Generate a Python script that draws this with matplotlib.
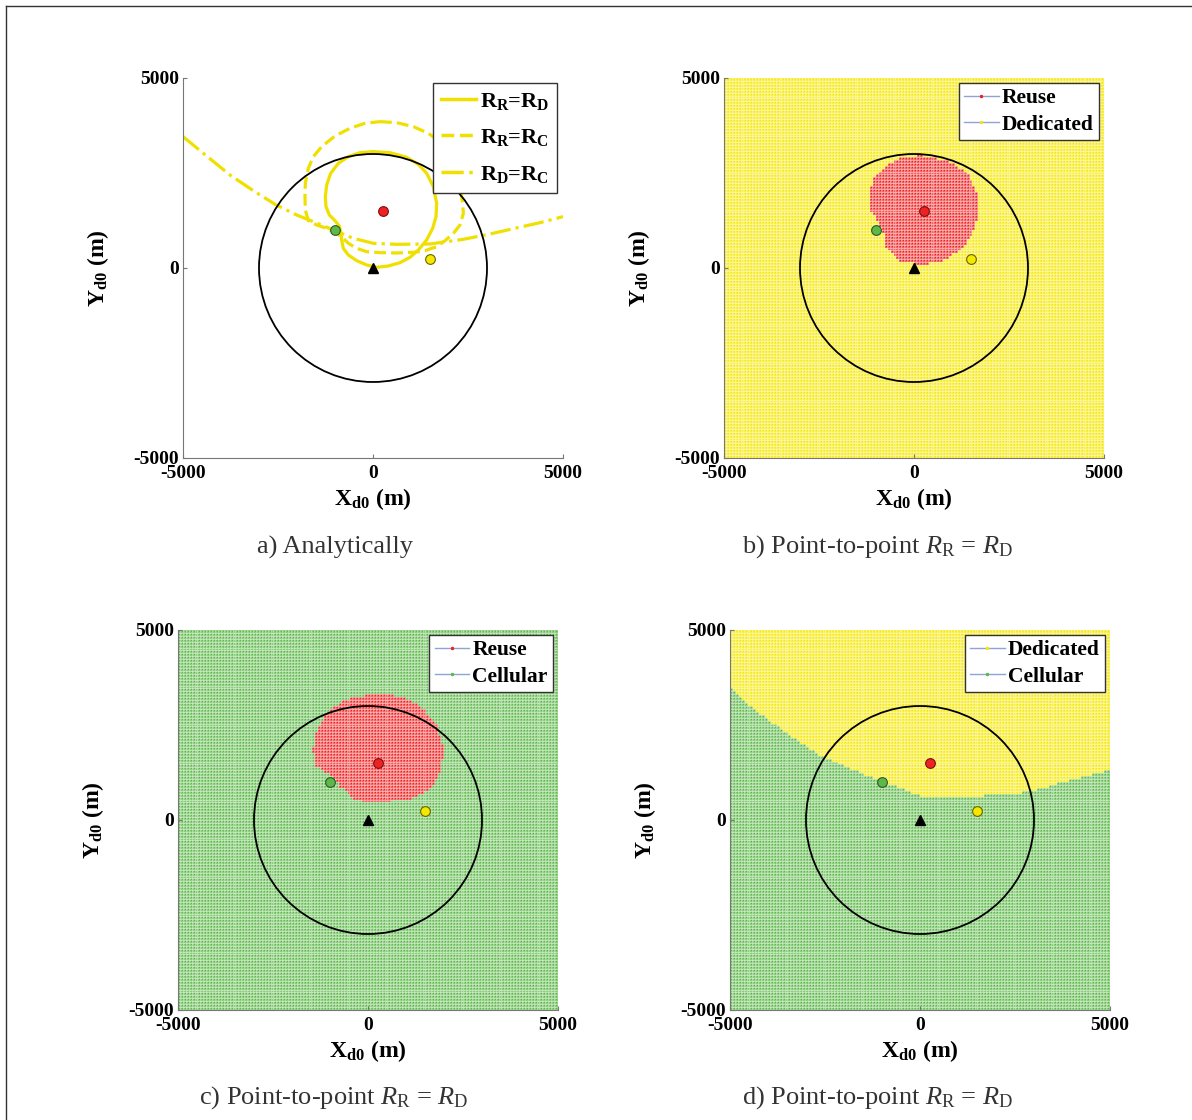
import numpy as np
import matplotlib
matplotlib.use("Agg")
import matplotlib.pyplot as plt
from matplotlib.colors import ListedColormap
from matplotlib.lines import Line2D
from matplotlib.patches import Circle
from matplotlib.path import Path

plt.rcParams["font.family"] = ["Liberation Serif", "DejaVu Serif"]
plt.rcParams["mathtext.fontset"] = "custom"
plt.rcParams["mathtext.rm"] = "Liberation Serif"
plt.rcParams["mathtext.it"] = "Liberation Serif:italic"
plt.rcParams["mathtext.bf"] = "Liberation Serif:bold"
plt.rcParams["axes.unicode_minus"] = False

# node positions (m)
bs = (0, 0)
red_node = (250, 1500)
green_node = (-1000, 1000)
yellow_node = (1500, 250)
cell_radius = 3000

# a) analytic boundaries
rr_rd_x = [9, 447, 886, 1193, 1412, 1588, 1676, 1658, 1570, 1412, 1193, 974, 711, 404, 96,
           -167, -430, -649, -781, -825, -842, -886, -1000, -1149, -1237, -1255, -1219,
           -1114, -912, -649, -342, 9]
rr_rd_y = [3062, 3036, 2913, 2729, 2492, 2141, 1702, 1351, 1044, 737, 474, 281, 140, 53, 18,
           79, 193, 342, 518, 737, 912, 1105, 1246, 1395, 1614, 1877, 2185,
           2492, 2755, 2930, 3036, 3062]

rr_rc_x = [184, 623, 1062, 1456, 1763, 2027, 2246, 2360, 2378, 2290, 2114, 1895, 1676, 1369,
           1062, 623, 184, -167, -430, -649, -781, -956, -1219, -1483, -1702, -1781, -1790,
           -1781, -1702, -1570, -1351, -1000, -605, -211, 184]
rr_rc_y = [3852, 3825, 3720, 3545, 3325, 2930, 2404, 1702, 1439, 1132, 912, 719, 561, 456,
           412, 395, 404, 430, 518, 649, 781, 912, 1044, 1132, 1246, 1527, 1877,
           2228, 2623, 2930, 3194, 3474, 3676, 3808, 3852]

rd_rc_x = [-5000, -4378, -3764, -3150, -2579, -2009, -1570, -1044, -518, 9, 623, 1500,
           2378, 3079, 3694, 4395, 5000]
rd_rc_y = [3457, 2948, 2448, 2035, 1676, 1395, 1219, 1000, 781, 649, 623, 632,
           755, 895, 1035, 1193, 1351]

# b) point-to-point: reuse region (rest is dedicated)
reuse_b_x = [184, 886, 1412, 1718, 1718, 1543, 1236, 710, 184, -342, -736, -780, -955,
             -1131, -1175, -1043, -692, -254]
reuse_b_y = [2972, 2840, 2490, 1876, 1438, 912, 473, 166, 79, 166, 561, 912, 1218,
             1525, 1963, 2403, 2753, 2929]

# c) point-to-point: reuse region (rest is cellular)
reuse_c_x = [228, 929, 1455, 1806, 1981, 1938, 1718, 1105, 228, -298, -736, -912, -1350,
             -1438, -1350, -1087, -649]
reuse_c_y = [3331, 3243, 2937, 2542, 1929, 1315, 877, 570, 438, 526, 877, 1140, 1403,
             1841, 2280, 2806, 3156]

# d) point-to-point: dedicated above this line, cellular below
ded_d_x = [-5040, -4384, -3506, -2630, -1754, -877, -350, 88, 877, 1754, 2893, 3945, 4997]
ded_d_y = [3506, 2937, 2280, 1710, 1315, 964, 789, 614, 614, 658, 745, 1052, 1315]

RED = "#ee2222"
YELLOW = "#f5e800"
GREEN = "#5cb848"
LINE_YELLOW = "#f0e000"
mode_cmap = ListedColormap([RED, YELLOW, GREEN])  # 0 reuse, 1 dedicated, 2 cellular

W, H = 1192, 1120
fig = plt.figure(figsize=(W / 100, H / 100), dpi=100)

# thin frame lines round the figure (left and top)
fig.add_artist(Line2D([6 / W, 6 / W], [0, 1 - 6 / H], transform=fig.transFigure,
                      lw=1.0, color="#333333"))
fig.add_artist(Line2D([6 / W, 1], [1 - 6 / H, 1 - 6 / H], transform=fig.transFigure,
                      lw=1.0, color="#333333"))


def make_axes(left, top):
    ax = fig.add_axes([left / W, 1 - (top + 380) / H, 380 / W, 380 / H])
    ax.set_xlim(-5000, 5000)
    ax.set_ylim(-5000, 5000)
    ax.set_xticks([-5000, 0, 5000])
    ax.set_yticks([-5000, 0, 5000])
    ax.tick_params(direction="in", length=3, color="#777777", labelsize=14, pad=3)
    ax.tick_params(axis="x", pad=5)
    for lab in ax.get_xticklabels() + ax.get_yticklabels():
        lab.set_fontweight("bold")
    for s in ["top", "right"]:
        ax.spines[s].set_visible(False)
    for s in ["left", "bottom"]:
        ax.spines[s].set_color("#777777")
    ax.set_xlabel(r"X$_\mathregular{d0}$ (m)", fontsize=17, fontweight="bold")
    ax.set_ylabel(r"Y$_\mathregular{d0}$ (m)", fontsize=17, fontweight="bold")
    ax.xaxis.set_label_coords(0.5, -0.075)
    ax.yaxis.set_label_coords(-0.19, 0.5)
    return ax


def draw_nodes(ax):
    ax.add_patch(Circle(bs, cell_radius, fill=False, ec="black", lw=1.3, zorder=3))
    ax.plot(*red_node, "o", ms=7, mfc=RED, mec="#7a1010", mew=0.8, zorder=4)
    ax.plot(*green_node, "o", ms=7, mfc=GREEN, mec="#2f5a25", mew=0.8, zorder=4)
    ax.plot(*yellow_node, "o", ms=7, mfc=YELLOW, mec="#6a6400", mew=0.8, zorder=4)
    ax.plot(*bs, "^", ms=7, color="black", zorder=4)


edges = np.linspace(-5000, 5000, 131)
centres = (edges[:-1] + edges[1:]) / 2
gx, gy = np.meshgrid(centres, centres)
grid_pts = np.column_stack([gx.ravel(), gy.ravel()])


def inside(xs, ys):
    return Path(np.column_stack([xs, ys])).contains_points(grid_pts).reshape(gx.shape)


def draw_map(ax, modes):
    ax.pcolormesh(edges, edges, modes, cmap=mode_cmap, vmin=-0.5, vmax=2.5,
                  edgecolors=(1, 1, 1, 0.3), linewidth=0.25, zorder=1)


def mode_legend(ax, labels, colors):
    handles = [Line2D([], [], color="#8fa3d6", lw=1, marker=".", ms=3, mfc=c, mec=c)
               for c in colors]
    leg = ax.legend(handles, labels, loc="upper right", bbox_to_anchor=(0.987, 0.987),
                    borderaxespad=0, fancybox=False, framealpha=1, edgecolor="#333333",
                    prop={"weight": "bold", "size": 15.5}, handlelength=1.6,
                    handletextpad=0.15, labelspacing=0.3, borderpad=0.25)
    leg.get_frame().set_linewidth(1.0)
    leg.set_zorder(6)


# a) analytically
ax = make_axes(183, 78)
ax.plot(rr_rd_x, rr_rd_y, color=LINE_YELLOW, lw=2.3, ls="-", zorder=2)
ax.plot(rr_rc_x, rr_rc_y, color=LINE_YELLOW, lw=2.3, ls="--", zorder=2)
ax.plot(rd_rc_x, rd_rc_y, color=LINE_YELLOW, lw=2.3, ls="-.", zorder=2)
draw_nodes(ax)
h = [Line2D([], [], color=LINE_YELLOW, lw=2.5, ls=s) for s in ["-", "--", "-."]]
leg = ax.legend(h, [r"R$_\mathregular{R}$=R$_\mathregular{D}$",
                    r"R$_\mathregular{R}$=R$_\mathregular{C}$",
                    r"R$_\mathregular{D}$=R$_\mathregular{C}$"],
                loc="upper right", bbox_to_anchor=(0.984, 0.987), borderaxespad=0,
                fancybox=False, framealpha=1, edgecolor="#333333",
                prop={"weight": "bold", "size": 16}, handlelength=1.6,
                handletextpad=0.15, labelspacing=0.7, borderpad=0.35)
leg.get_frame().set_linewidth(1.0)
leg.set_zorder(6)

# b) reuse vs dedicated
ax = make_axes(724, 78)
modes = np.where(inside(reuse_b_x, reuse_b_y), 0, 1)
draw_map(ax, modes)
draw_nodes(ax)
mode_legend(ax, ["Reuse", "Dedicated"], [RED, YELLOW])

# c) reuse vs cellular
ax = make_axes(178, 630)
modes = np.where(inside(reuse_c_x, reuse_c_y), 0, 2)
draw_map(ax, modes)
draw_nodes(ax)
mode_legend(ax, ["Reuse", "Cellular"], [RED, GREEN])

# d) dedicated vs cellular
ax = make_axes(730, 630)
poly_x = ded_d_x + [5000, 5000, -5000, -5000]
poly_y = ded_d_y + [ded_d_y[-1], 5000, 5000, ded_d_y[0]]
modes = np.where(inside(poly_x, poly_y), 1, 2)
draw_map(ax, modes)
draw_nodes(ax)
mode_legend(ax, ["Dedicated", "Cellular"], [YELLOW, GREEN])

cap = r"Point-to-point $R_\mathrm{R}$ = $R_\mathrm{D}$"
captions = ["a) Analytically", "b) " + cap, "c) " + cap, "d) " + cap]
cap_pos = [(335, 547), (877, 547), (334, 1098), (877, 1098)]
for txt, (cx, cy) in zip(captions, cap_pos):
    fig.text(cx / W, 1 - cy / H, txt, ha="center", va="center", fontsize=19,
             color="#333333")

fig.savefig("out.png", dpi=100)
